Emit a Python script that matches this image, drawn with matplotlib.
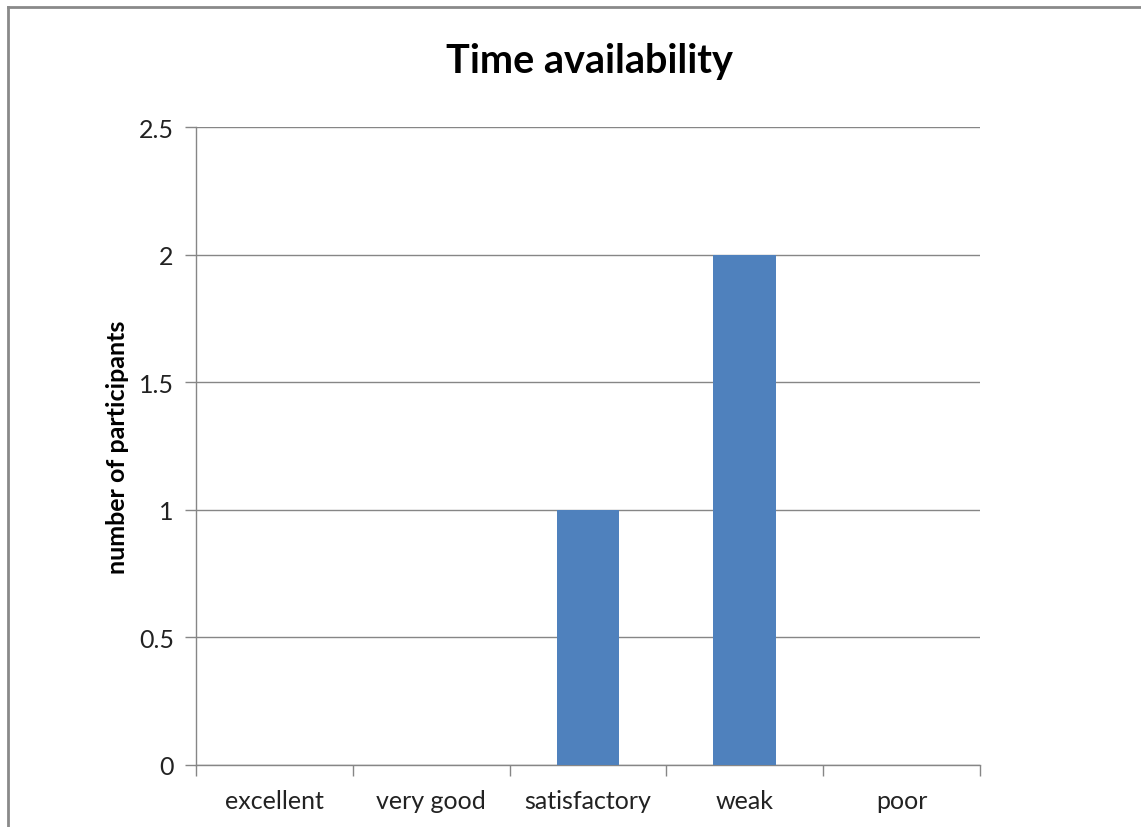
import matplotlib
matplotlib.use("Agg")
import matplotlib.pyplot as plt
from matplotlib.lines import Line2D

categories = ["excellent", "very good", "satisfactory", "weak", "poor"]
participants = [0, 0, 1, 2, 0]
y_ticks = [0, 0.5, 1, 1.5, 2, 2.5]
y_tick_labels = ["0", "0.5", "1", "1.5", "2", "2.5"]

plt.rcParams["font.family"] = ["Lato", "DejaVu Sans"]

W, H = 1141, 828
fig = plt.figure(figsize=(W / 100, H / 100), dpi=100)
fig.patch.set_facecolor("white")

ax = fig.add_axes([196 / W, 1 - 766 / H, (980 - 196) / W, (766 - 128) / H])

grid_color = "#868686"
bar_color = "#4F81BD"

x = range(len(categories))
ax.bar(x, participants, width=0.4, color=bar_color, zorder=3)

ax.set_xlim(-0.5, len(categories) - 0.5)
ax.set_ylim(0, 2.5)
ax.set_yticks(y_ticks)
ax.set_yticklabels(y_tick_labels)
ax.yaxis.grid(True, color=grid_color, linewidth=1.0, zorder=0)
ax.set_axisbelow(True)

# category labels centred, tick marks on the category boundaries
ax.set_xticks(list(x))
ax.set_xticklabels(categories)
ax.tick_params(axis="x", which="major", length=0, pad=17, labelsize=18, labelcolor="#222222")
ax.set_xticks([i - 0.5 for i in range(len(categories) + 1)], minor=True)
ax.tick_params(axis="x", which="minor", length=8, width=1, color=grid_color, direction="out")
ax.tick_params(axis="y", length=8, width=1, color=grid_color, pad=8, labelsize=18, labelcolor="#222222")

for side in ("top", "right"):
    ax.spines[side].set_visible(False)
for side in ("left", "bottom"):
    ax.spines[side].set_color(grid_color)
    ax.spines[side].set_linewidth(1.0)

ax.set_ylabel("number of participants", fontsize=18, fontweight="bold", labelpad=7)
fig.text(589 / W, 1 - 61 / H, "Time availability", ha="center", va="center",
         fontsize=28.5, fontweight="bold")

# chart-area frame on the left and top edges
frame_color = "#8a8a8a"
fig.add_artist(Line2D([8 / W, 8 / W], [0, 1 - 8 / H], transform=fig.transFigure,
                      color=frame_color, linewidth=2))
fig.add_artist(Line2D([8 / W, 1], [1 - 8 / H, 1 - 8 / H], transform=fig.transFigure,
                      color=frame_color, linewidth=2))

fig.savefig("out.png", dpi=100, facecolor="white")
